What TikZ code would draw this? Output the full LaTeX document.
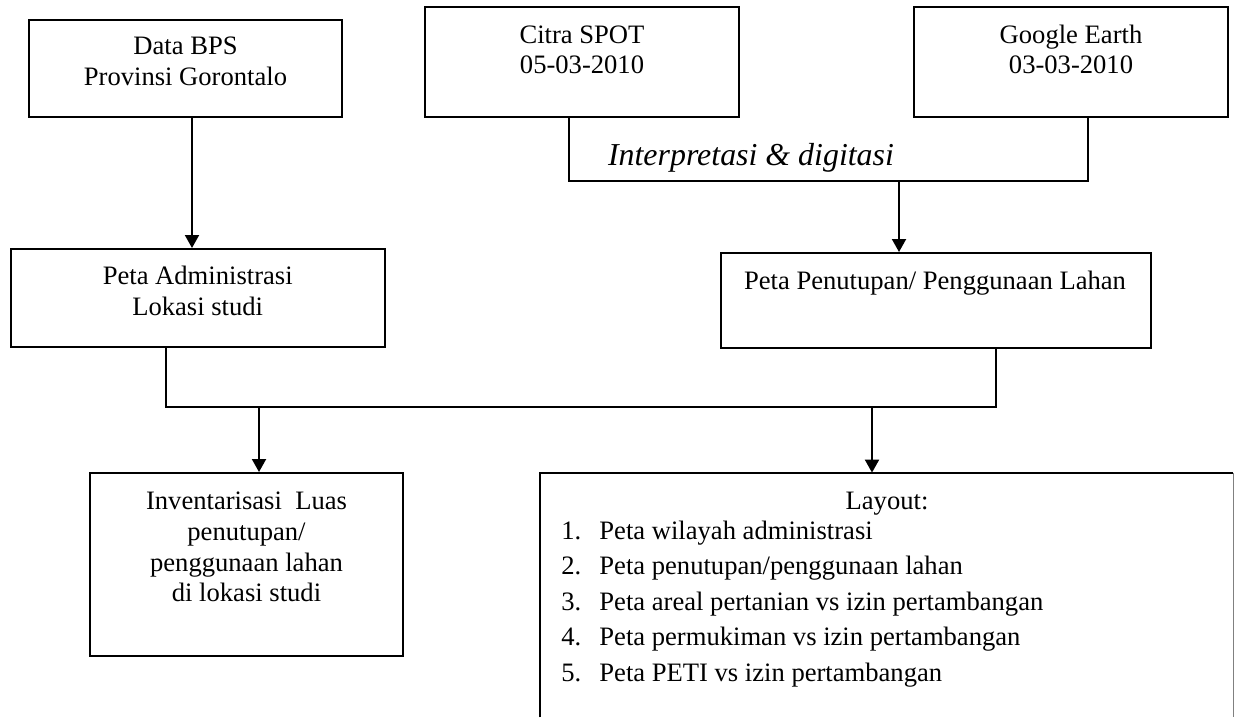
\documentclass[tikz,border=0pt]{standalone}
\usepackage{fontspec}
\setmainfont{Liberation Serif}
\usetikzlibrary{arrows.meta}
\begin{document}
\begin{tikzpicture}[x=0.5pt,y=-0.5pt,
  box/.style={draw,line width=1pt,inner sep=0pt},
  openbox/.style={inner sep=0pt},
  txt/.style={inner sep=0pt,font=\fontsize{13.3pt}{16pt}\selectfont},
  itxt/.style={inner sep=0pt,font=\fontsize{15.95pt}{19pt}\selectfont\itshape},
  arr/.style={line width=1pt,-{Triangle[width=7pt,length=6.5pt]}},
  con/.style={line width=1pt}]
\useasboundingbox (0,0) rectangle (1234,717);

% boxes
\node[box,minimum width=156.5pt,minimum height=48.5pt] (bps) at (185.5,68.5) {};
\node[box,minimum width=157pt,minimum height=55pt] (spot) at (582,62) {};
\node[box,minimum width=157pt,minimum height=55pt] (ge) at (1071,62) {};
\node[box,minimum width=187pt,minimum height=49pt] (adm) at (197.7,298) {};
\node[box,minimum width=215pt,minimum height=47.5pt] (pen) at (936,300.5) {};
\node[box,minimum width=156.5pt,minimum height=91.5pt] (inv) at (246.5,564.5) {};
\node[openbox,minimum width=346.5pt,minimum height=122pt] (lay) at (886.5,595) {};
\draw[con] (lay.south west) -- (lay.north west) -- (lay.north east);
\draw[gray,line width=0.6pt] (lay.north east) -- (lay.south east);

% texts
\node[txt,anchor=base] (bps1) at (185.5,55) {Data BPS};
\node[txt,anchor=base] (bps2) at (185.5,86) {Provinsi Gorontalo};
\node[txt,anchor=base] (spot1) at (582,44) {Citra SPOT};
\node[txt,anchor=base] (spot2) at (582,74) {05-03-2010};
\node[txt,anchor=base] (ge1) at (1071,44) {Google Earth};
\node[txt,anchor=base] (ge2) at (1071,74) {03-03-2010};
\node[itxt,anchor=base] (interp) at (751,165) {Interpretasi \& digitasi};
\node[txt,anchor=base] (adm1) at (197.7,284) {Peta Administrasi};
\node[txt,anchor=base] (adm2) at (197.7,315) {Lokasi studi};
\node[txt,anchor=base] (pen1) at (935,289) {Peta Penutupan/ Penggunaan Lahan};
\node[txt,anchor=base] (inv1) at (246.5,509) {Inventarisasi\ \ Luas};
\node[txt,anchor=base] (inv2) at (246.5,540) {penutupan/};
\node[txt,anchor=base] (inv3) at (246.5,571) {penggunaan lahan};
\node[txt,anchor=base] (inv4) at (246.5,601) {di lokasi studi};
\node[txt,anchor=base] (lay0) at (887,509) {Layout:};
\node[txt,anchor=base west] (n1) at (561,539) {1.};
\node[txt,anchor=base west] (i1) at (599,539) {Peta wilayah administrasi};
\node[txt,anchor=base west] (n2) at (561,574.5) {2.};
\node[txt,anchor=base west] (i2) at (599,574.5) {Peta penutupan/penggunaan lahan};
\node[txt,anchor=base west] (n3) at (561,610) {3.};
\node[txt,anchor=base west] (i3) at (599,610) {Peta areal pertanian vs izin pertambangan};
\node[txt,anchor=base west] (n4) at (561,645.5) {4.};
\node[txt,anchor=base west] (i4) at (599,645.5) {Peta permukiman vs izin pertambangan};
\node[txt,anchor=base west] (n5) at (561,681) {5.};
\node[txt,anchor=base west] (i5) at (599,681) {Peta PETI vs izin pertambangan};

% connectors
\coordinate (c1) at (192,0);
\draw[arr] (bps.south -| c1) -- (adm.north -| c1);
\coordinate (j1) at (569,181);
\coordinate (j2) at (1088,181);
\coordinate (j3) at (899,181);
\draw[con] (spot.south -| j1) -- (j1) -- (j2) -- (ge.south -| j2);
\draw[arr] (j3) -- (pen.north -| j3);
\coordinate (k1) at (166,407);
\coordinate (k2) at (996,407);
\coordinate (k3) at (259,407);
\coordinate (k4) at (872,407);
\draw[con] (adm.south -| k1) -- (k1) -- (k2) -- (pen.south -| k2);
\draw[arr] (k3) -- (inv.north -| k3);
\draw[arr] (k4) -- (lay.north -| k4);
\end{tikzpicture}
\end{document}
